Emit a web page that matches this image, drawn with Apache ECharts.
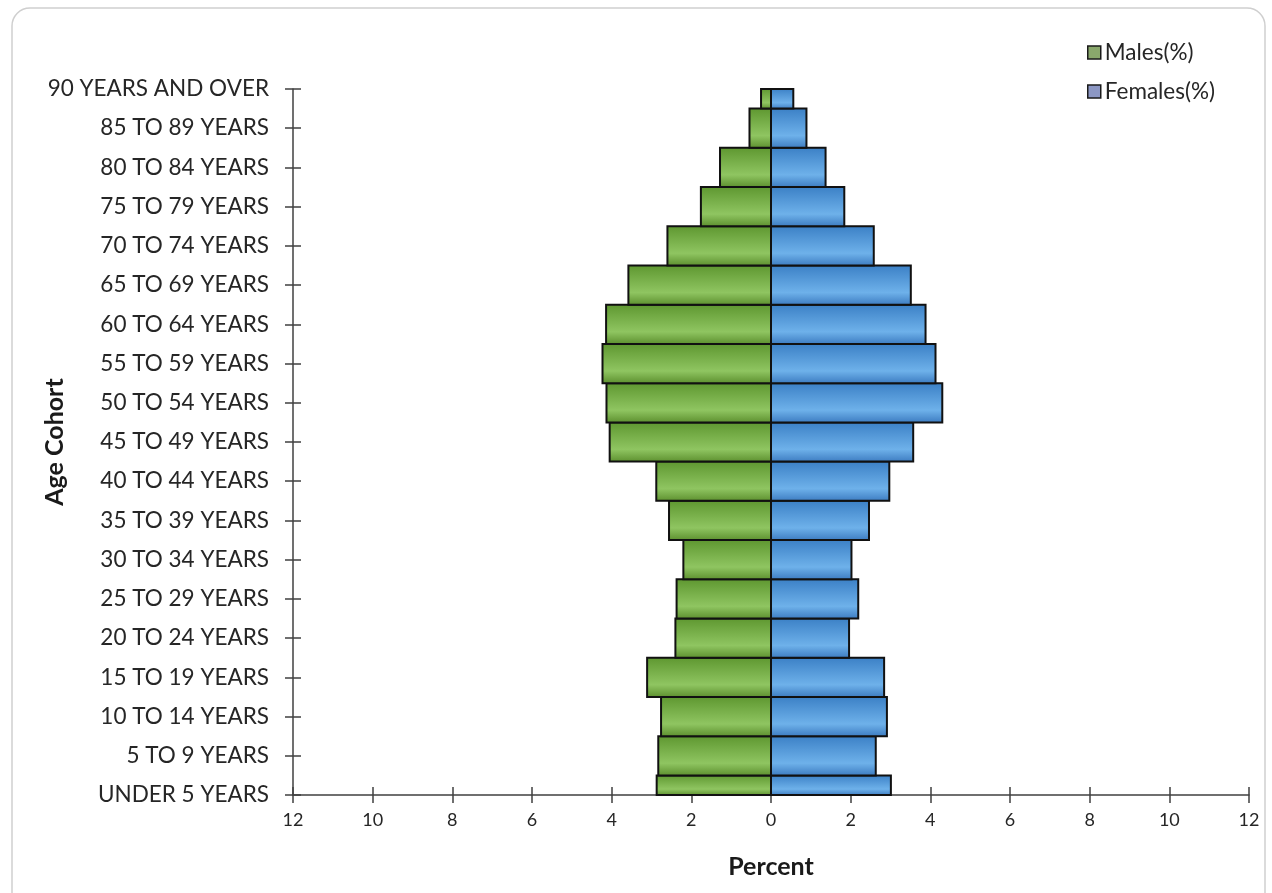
<!DOCTYPE html>
<html>
<head>
<meta charset="utf-8">
<script src="https://cdn.jsdelivr.net/npm/echarts@6/dist/echarts.min.js"></script>
<style>
  html, body { margin: 0; padding: 0; background: #ffffff; }
  #chart { width: 1272px; height: 893px; }
</style>
</head>
<body>
<div id="chart"></div>
<script>
// Age cohorts (bottom to top)
const categories = [
  'UNDER 5 YEARS', '5 TO 9 YEARS', '10 TO 14 YEARS', '15 TO 19 YEARS',
  '20 TO 24 YEARS', '25 TO 29 YEARS', '30 TO 34 YEARS', '35 TO 39 YEARS',
  '40 TO 44 YEARS', '45 TO 49 YEARS', '50 TO 54 YEARS', '55 TO 59 YEARS',
  '60 TO 64 YEARS', '65 TO 69 YEARS', '70 TO 74 YEARS', '75 TO 79 YEARS',
  '80 TO 84 YEARS', '85 TO 89 YEARS', '90 YEARS AND OVER'
];
// Percent of population
const malesPct = [2.87, 2.83, 2.76, 3.11, 2.40, 2.37, 2.20, 2.56, 2.88, 4.05,
                  4.13, 4.23, 4.14, 3.58, 2.60, 1.76, 1.28, 0.54, 0.25];
const femalesPct = [3.01, 2.63, 2.91, 2.84, 1.96, 2.19, 2.02, 2.46, 2.97, 3.57,
                    4.30, 4.13, 3.88, 3.51, 2.58, 1.84, 1.37, 0.89, 0.56];
const xTickValues = [-12, -10, -8, -6, -4, -2, 0, 2, 4, 6, 8, 10, 12];

const chart = echarts.init(document.getElementById('chart'));
const FONT = 'Lato';

function grad(top, mid, bottom) {
  return new echarts.graphic.LinearGradient(0, 0, 0, 1, [
    { offset: 0, color: top },
    { offset: 0.68, color: mid },
    { offset: 1, color: bottom }
  ]);
}
const maleFill = grad('#5d962f', '#8fc561', '#5a8d2c');
const femaleFill = grad('#3a7fc5', '#6eb1ea', '#3a79bf');

// Bars drawn through the axes' scales, clipped to the plot area (Excel-like)
function makeRender(fill) {
  return function (params, api) {
    const val = api.value(0);
    const idx = api.value(1);
    const p0 = api.coord([0, idx]);
    const p1 = api.coord([val, idx]);
    const pNext = api.coord([0, 1]);
    const pFirst = api.coord([0, 0]);
    const h = Math.abs(pFirst[1] - pNext[1]);
    const cs = params.coordSys;
    const rect = echarts.graphic.clipRectByRect(
      { x: Math.min(p0[0], p1[0]), y: p0[1] - h / 2, width: Math.abs(p1[0] - p0[0]), height: h },
      { x: cs.x, y: cs.y, width: cs.width, height: cs.height }
    );
    if (!rect) return null;
    return {
      type: 'rect',
      shape: rect,
      style: { fill: fill, stroke: '#111111', lineWidth: 2 }
    };
  };
}

const tickStyle = { color: '#404040', width: 1.5 };

chart.setOption({
  backgroundColor: '#ffffff',
  animation: false,
  graphic: [{
    type: 'rect',
    shape: { x: 12, y: 8, width: 1253, height: 910, r: 18 },
    style: { fill: 'none', stroke: '#cfcfcf', lineWidth: 1.5 },
    z: -10
  }],
  legend: {
    orient: 'vertical',
    left: 1082,
    top: 36,
    itemWidth: 13,
    itemHeight: 13,
    itemGap: 16,
    icon: 'rect',
    textStyle: { fontFamily: FONT, fontSize: 22.5, color: '#262626', padding: [0, 0, 0, -1] },
    data: [
      { name: 'Males(%)', itemStyle: { color: '#8aa86c', borderColor: '#1a1a1a', borderWidth: 1.5 } },
      { name: 'Females(%)', itemStyle: { color: '#8c97c4', borderColor: '#1a1a1a', borderWidth: 1.5 } }
    ]
  },
  grid: { left: 293, right: 23, top: 89, bottom: 98, containLabel: false },
  xAxis: [{
    type: 'value',
    position: 'bottom',
    min: -12, max: 12, interval: 2,
    name: 'Percent',
    nameLocation: 'middle',
    nameGap: 59,
    nameMoveOverlap: false,
    nameTextStyle: { fontFamily: FONT, fontSize: 25, fontWeight: 'bold', color: '#1a1a1a' },
    axisLine: { show: true, onZero: false, lineStyle: tickStyle },
    axisTick: { show: true, length: 8, lineStyle: tickStyle },
    axisLabel: {
      fontFamily: FONT, fontSize: 18, color: '#262626', margin: 16,
      formatter: v => String(Math.abs(v))
    },
    splitLine: { show: false }
  }, {
    type: 'value',
    position: 'bottom',
    min: -12, max: 12, interval: 2,
    axisLine: { show: false, onZero: false },
    axisTick: { show: true, inside: true, length: 8, lineStyle: tickStyle },
    axisLabel: { show: false },
    splitLine: { show: false }
  }],
  yAxis: [{
    type: 'category',
    position: 'left',
    data: categories,
    boundaryGap: false,
    name: 'Age Cohort',
    nameLocation: 'middle',
    nameRotate: 90,
    nameGap: 226,
    nameMoveOverlap: false,
    nameTextStyle: { fontFamily: FONT, fontSize: 25, fontWeight: 'bold', color: '#1a1a1a' },
    axisLine: { show: true, onZero: false, lineStyle: tickStyle },
    axisTick: { show: true, length: 8, alignWithLabel: true, lineStyle: tickStyle },
    axisLabel: { fontFamily: FONT, fontSize: 22.5, color: '#262626', margin: 24 },
    splitLine: { show: false }
  }, {
    type: 'category',
    position: 'left',
    data: categories,
    boundaryGap: false,
    axisLine: { show: false, onZero: false },
    axisTick: { show: true, inside: true, length: 8, lineStyle: tickStyle },
    axisLabel: { show: false },
    splitLine: { show: false }
  }],
  series: [
    {
      name: 'Males(%)',
      type: 'custom',
      xAxisIndex: 0,
      yAxisIndex: 0,
      renderItem: makeRender(maleFill),
      encode: { x: 0, y: 1 },
      data: malesPct.map((v, i) => [-v, i]),
      itemStyle: { color: '#8aa86c' },
      z: 2
    },
    {
      name: 'Females(%)',
      type: 'custom',
      xAxisIndex: 0,
      yAxisIndex: 0,
      renderItem: makeRender(femaleFill),
      encode: { x: 0, y: 1 },
      data: femalesPct.map((v, i) => [v, i]),
      itemStyle: { color: '#8c97c4' },
      z: 2
    }
  ]
});
</script>
</body>
</html>
